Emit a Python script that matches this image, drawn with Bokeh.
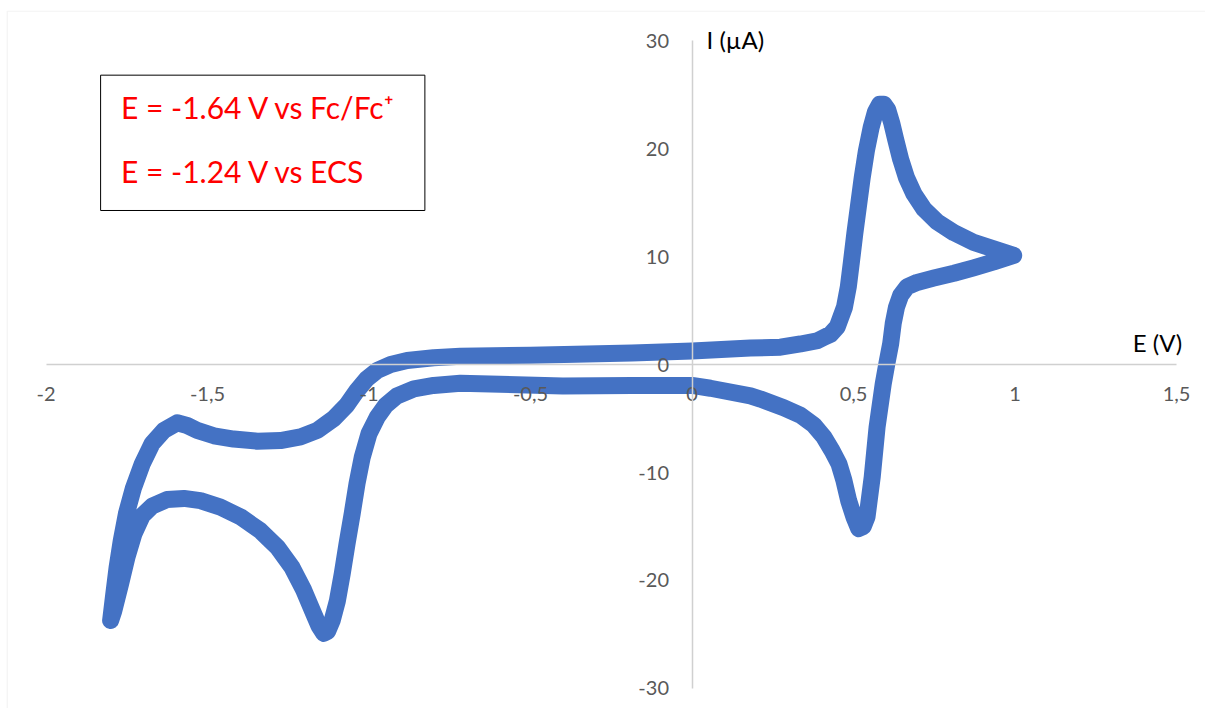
from bokeh.plotting import figure
from bokeh.models import LinearAxis, FixedTicker, Label, BoxAnnotation, ColumnDataSource, Range1d
from bokeh.embed import file_html
from bokeh.resources import INLINE

# Forward scan (upper branch, from the -1.8 V vertex to +1.0 V)
E_forward = [-1.800, -1.790, -1.780, -1.767, -1.751, -1.730, -1.702, -1.671, -1.635, -1.594,
             -1.563, -1.532, -1.480, -1.419, -1.346, -1.274, -1.212, -1.160, -1.109, -1.070,
             -1.037, -1.006, -0.975, -0.933, -0.882, -0.800, -0.717, -0.500, -0.186, 0.000,
             0.181, 0.274, 0.336, 0.388, 0.408, 0.429, 0.450, 0.472, 0.484, 0.494,
             0.504, 0.515, 0.527, 0.540, 0.555, 0.568, 0.581, 0.594, 0.606, 0.618,
             0.630, 0.646, 0.664, 0.687, 0.718, 0.759, 0.811, 0.872, 0.934, 0.996]
I_forward = [-23.7, -21.2, -18.8, -16.3, -13.8, -11.5, -9.2, -7.3, -6.1, -5.4,
             -5.65, -6.1, -6.6, -6.9, -7.1, -7.04, -6.7, -6.1, -5.0, -3.8,
             -2.4, -1.3, -0.56, 0.0, 0.37, 0.62, 0.77, 0.85, 1.06, 1.25,
             1.53, 1.6, 1.9, 2.2, 2.5, 2.8, 3.5, 5.3, 7.2, 9.6,
             12.1, 14.6, 17.3, 19.8, 22.0, 23.4, 24.1, 24.1, 23.6, 22.4,
             20.9, 19.0, 17.3, 15.8, 14.4, 13.2, 12.2, 11.3, 10.7, 10.1]

# Reverse scan (lower branch, from +1.0 V back to -1.8 V)
E_reverse = [0.996, 0.934, 0.872, 0.811, 0.749, 0.697, 0.666, 0.646, 0.633, 0.623,
             0.615, 0.604, 0.592, 0.573, 0.558, 0.542, 0.530, 0.516, 0.501, 0.485,
             0.470, 0.455, 0.434, 0.408, 0.377, 0.336, 0.284, 0.212, 0.181, 0.057,
             0.000, -0.186, -0.400, -0.717, -0.800, -0.861, -0.913, -0.949, -0.975, -1.000,
             -1.021, -1.037, -1.052, -1.068, -1.083, -1.098, -1.114, -1.128, -1.140, -1.155,
             -1.171, -1.202, -1.238, -1.284, -1.336, -1.398, -1.460, -1.522, -1.573, -1.625,
             -1.671, -1.702, -1.728, -1.749, -1.769, -1.790, -1.800]
I_reverse = [10.1, 9.5, 8.95, 8.45, 8.0, 7.6, 7.2, 6.4, 5.3, 3.8,
             1.9, 0.2, -1.8, -5.8, -10.4, -14.1, -15.0, -15.2, -14.1, -12.6,
             -10.7, -9.2, -8.0, -6.7, -5.6, -4.7, -4.0, -3.2, -2.9, -2.2,
             -1.94, -1.94, -2.0, -1.73, -1.94, -2.25, -2.9, -3.8, -4.9, -6.4,
             -8.6, -11.0, -13.8, -16.6, -19.4, -21.9, -23.7, -24.7, -24.9, -24.2,
             -23.1, -20.9, -18.8, -16.9, -15.4, -14.1, -13.2, -12.6, -12.4, -12.5,
             -13.1, -14.0, -15.7, -17.8, -20.3, -22.8, -23.7]

x_ticks = [-2, -1.5, -1, -0.5, 0, 0.5, 1, 1.5]
x_tick_labels = ["-2", "-1,5", "-1", "-0,5", "0", "0,5", "1", "1,5"]
y_ticks = [-30, -20, -10, 0, 10, 20, 30]
y_tick_labels = ["-30", "-20", "-10", "0", "10", "20", "30"]

x_title = "E (V)"
y_title = "I (µA)"
note_lines = ["E = -1.64 V vs Fc/Fc⁺", "E = -1.24 V vs ECS"]

FONT = "Lato"

p = figure(width=1205, height=708,
           x_range=Range1d(-2.1409, 1.5898), y_range=Range1d(-31.852, 33.704),
           output_backend="svg", toolbar_location=None,
           x_axis_location=None, y_axis_location=None,
           min_border_left=0, min_border_right=0,
           min_border_top=0, min_border_bottom=0)
p.xgrid.visible = False
p.ygrid.visible = False
p.outline_line_color = None
p.background_fill_color = "white"
p.border_fill_color = "white"

# chart-area border (light grey)
p.add_layout(BoxAnnotation(left=-2.120, right=1.75, top=32.71, bottom=-40,
                           fill_alpha=0, line_color="#d9d9d9", line_width=1.2,
                           level="underlay"))

E_all = E_forward + E_reverse[1:]
I_all = I_forward + I_reverse[1:]
src = ColumnDataSource(dict(E=E_all, I=I_all))
p.line("E", "I", source=src, line_color="#4472C4", line_width=17,
       line_join="round", line_cap="round")

common = dict(axis_line_color="#d0d0d0", axis_line_width=1.5,
              major_tick_line_color=None, minor_tick_line_color=None,
              major_tick_in=0, major_tick_out=0,
              major_label_text_font=FONT, major_label_text_font_size="20px",
              major_label_text_color="#595959")

xaxis = LinearAxis(fixed_location=0, bounds=(-2, 1.5), ticker=FixedTicker(ticks=x_ticks),
                   major_label_overrides=dict(zip(x_ticks, x_tick_labels)),
                   major_label_standoff=22, **common)
p.add_layout(xaxis, "below")

yaxis = LinearAxis(fixed_location=0, bounds=(-30, 30), ticker=FixedTicker(ticks=y_ticks),
                   major_label_overrides=dict(zip(y_ticks, y_tick_labels)),
                   major_label_standoff=23, **common)
p.add_layout(yaxis, "left")

p.add_layout(Label(x=0.045, y=30.09, text=y_title, text_baseline="middle",
                   text_font=FONT, text_font_size="24px", text_color="black"))
p.add_layout(Label(x=1.441, y=2.04, text=x_title, text_align="center", text_baseline="middle",
                   text_font=FONT, text_font_size="24px", text_color="black"))

p.add_layout(BoxAnnotation(left=-1.831, right=-0.827, top=26.79, bottom=14.26,
                           fill_color="white", fill_alpha=1.0,
                           line_color="black", line_width=1, line_alpha=1.0))
for txt, yy in zip(note_lines, [23.82, 17.96]):
    p.add_layout(Label(x=-1.768, y=yy, text=txt, text_baseline="middle",
                       text_font=FONT, text_font_size="30px", text_color="#FF0000"))

open("out.html", "w").write(file_html(p, INLINE))
